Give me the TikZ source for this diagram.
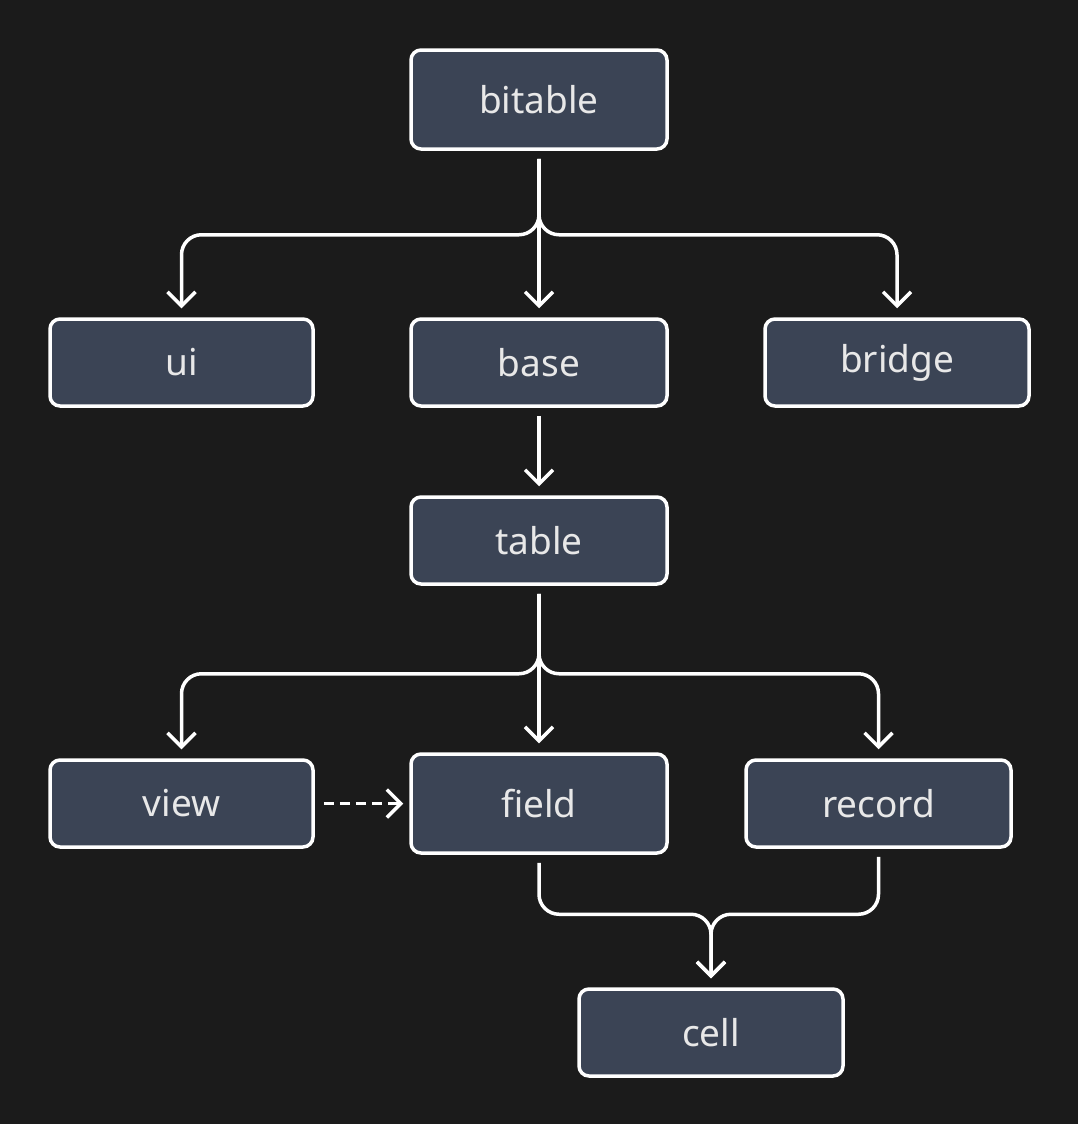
\documentclass[tikz,border=0pt]{standalone}
\usepackage{fontspec}
\setmainfont{Noto Sans}
\usetikzlibrary{positioning, calc, arrows.meta}

\definecolor{bgcol}{HTML}{1B1B1B}
\definecolor{modfill}{HTML}{3B4455}
\definecolor{modtext}{HTML}{E8E8E8}

\begin{document}
\begin{tikzpicture}
  \newcommand\modwidth{128pt}
  \newcommand\modwidthwide{132pt}
  \newcommand\modheight{43.5pt}
  \newcommand\modheighttall{49.5pt}
  \newcommand\busdrop{42pt} % 44pt below table

  \tikzset{module/.style={draw=white, line width=1.75pt, rounded corners=5pt, fill=modfill, text=modtext, font=\fontsize{18.5}{22}\selectfont, minimum height=\modheight, inner sep=0pt}}
  \tikzset{dep/.style={draw=white, line width=1.75pt, rounded corners=10pt, -{Straight Barb[length=7pt, width=14pt]}, shorten <=4pt, shorten >=4.5pt}}
  \tikzset{weakdep/.style={dep, rounded corners=0pt, dash pattern=on 5pt off 3pt, shorten <=4.5pt, shorten >=3pt}}

  \fill[bgcol] (0,0) rectangle (539pt,-562pt);

  \node[module, minimum width=\modwidth, minimum height=\modheighttall] at (269.5pt, -49.75pt) (bitable) {bitable};
  \node[module, minimum width=\modwidth, below=83.25pt of bitable] (base) {base};
  \node[module, minimum width=131.5pt, left=47.25pt of base] (ui) {ui};
  \node[module, minimum width=\modwidthwide, right=47.25pt of base] (bridge) {bridge};
  \node[module, minimum width=\modwidth, below=43.75pt of base] (table) {table};
  \node[module, minimum width=\modwidth, minimum height=\modheighttall, below=83.25pt of table] (field) {field};
  \node[module, minimum width=131.5pt, left=47.25pt of field] (view) {view};
  \node[module, minimum width=132.5pt, right=37.75pt of field] (record) {record};
  \node[module, minimum width=\modwidthwide, below=66.25pt of field.south, xshift=86pt] (cell) {cell};

  \coordinate (bitablebus) at ($(bitable.south)+(0,-\busdrop)$);
  \coordinate (tablebus) at ($(table.south)+(0,-44pt)$);
  \coordinate (cellbus) at ($(cell.north)+(0,36.5pt)$);

  \draw[dep] (bitable.south) -- (base.north);
  \draw[dep] (bitable.south) -- (bitablebus) -| (ui.north);
  \draw[dep] (bitable.south) -- (bitablebus) -| (bridge.north);

  \draw[dep] (base.south) -- (table.north);

  \draw[dep] (table.south) -- (field.north);
  \draw[dep] (table.south) -- (tablebus) -| (view.north);
  \draw[dep] (table.south) -- (tablebus) -| (record.north);

  \draw[weakdep] (view.east) -- (field.west);

  \draw[dep] (field.south) |- (cellbus) -- (cell.north);
  \draw[dep] (record.south) |- (cellbus) -- (cell.north);
\end{tikzpicture}
\end{document}
